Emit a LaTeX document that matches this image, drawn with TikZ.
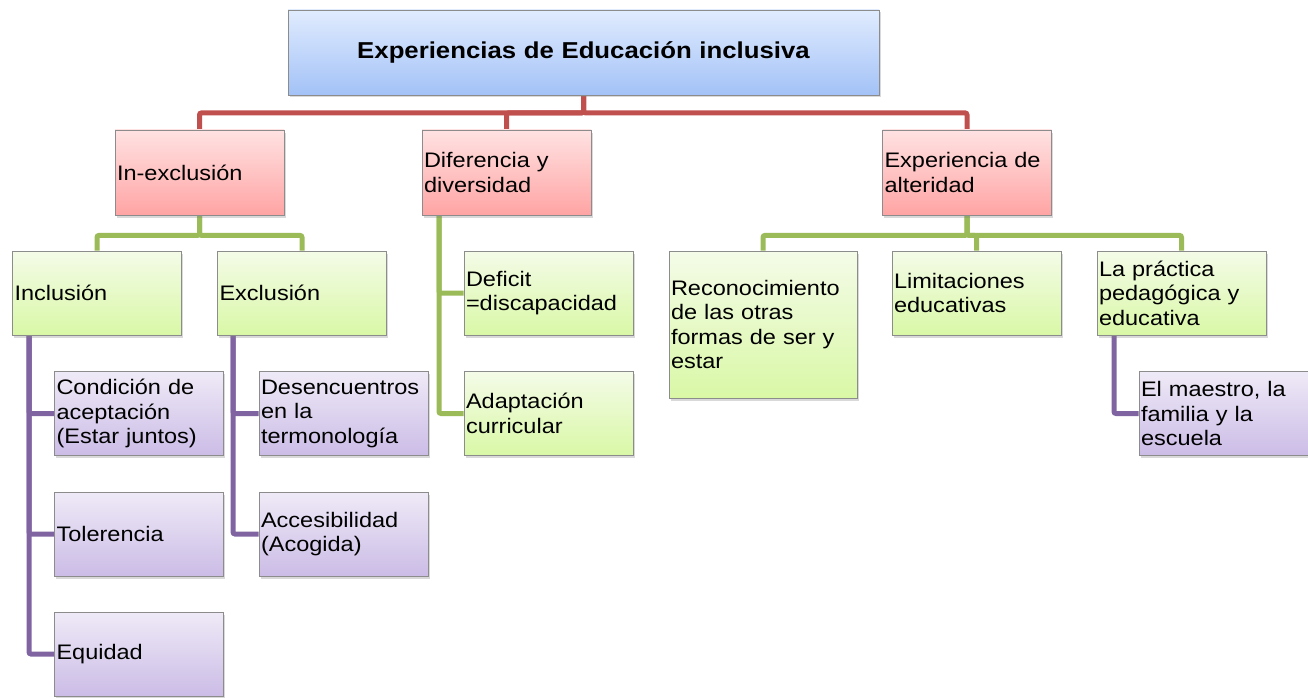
\documentclass[tikz,border=0pt]{standalone}
\usepackage{fontspec}
\setmainfont[FakeStretch=1.12]{Liberation Sans}
\usetikzlibrary{shadows,backgrounds}
\definecolor{lnred}{HTML}{C0504D}
\definecolor{lngreen}{HTML}{9BBB59}
\definecolor{lnpurple}{HTML}{8064A2}
\definecolor{boxgray}{HTML}{8C8C8C}
\definecolor{bluetop}{HTML}{E0EBFE}
\definecolor{bluebot}{HTML}{A3C2F7}
\definecolor{pinktop}{HTML}{FFE2E2}
\definecolor{pinkbot}{HTML}{FFA4A4}
\definecolor{greentop}{HTML}{F4FBE8}
\definecolor{greenbot}{HTML}{D9F8A6}
\definecolor{purptop}{HTML}{EFEAF7}
\definecolor{purpbot}{HTML}{CBBCE6}
\begin{document}
\begin{tikzpicture}[x=1pt, y=-1pt,
    box/.style={draw=boxgray, line width=0.8pt, inner xsep=2pt, inner ysep=0pt,
      align=left, text width=165pt, minimum height=84pt,
      font=\fontsize{21}{24.5}\selectfont,
      drop shadow={opacity=0.3, shadow xshift=1.5pt, shadow yshift=-2.5pt}},
    bluebox/.style={box, top color=bluetop, bottom color=bluebot},
    pinkbox/.style={box, top color=pinktop, bottom color=pinkbot},
    greenbox/.style={box, top color=greentop, bottom color=greenbot},
    purpbox/.style={box, top color=purptop, bottom color=purpbot},
    redline/.style={draw=lnred, line width=5pt, rounded corners=2pt},
    greenline/.style={draw=lngreen, line width=5pt, rounded corners=2pt},
    purpline/.style={draw=lnpurple, line width=5pt, rounded corners=2pt}]
    \useasboundingbox (0,0) rectangle (1308,698);

    \node [bluebox, text width=587pt, minimum height=85pt, align=center,
      font=\fontsize{23}{27}\selectfont\bfseries] (top) at (583.5,52.5) {Experiencias de Educación inclusiva};

    \node [pinkbox, minimum height=85pt] (inex) at (199.5,172.5) {In-exclusión};
    \node [pinkbox, minimum height=85pt] (difdiv) at (506.5,172.5) {Diferencia y\\diversidad};
    \node [pinkbox, minimum height=85pt] (alter) at (967,172.5) {Experiencia de\\alteridad};

    \node [greenbox] (incl) at (97,293) {Inclusión};
    \node [greenbox] (excl) at (302,293) {Exclusión};
    \node [greenbox] (deficit) at (548.5,293) {Deficit\\=discapacidad};
    \node [greenbox] (adapt) at (548.5,413.5) {Adaptación\\curricular};
    \node [greenbox, text width=184pt, minimum height=147pt] (recon) at (763,324.5) {Reconocimiento\\de las otras\\formas de ser y\\estar};
    \node [greenbox] (limit) at (976.5,293) {Limitaciones\\educativas};
    \node [greenbox] (prac) at (1181.5,293) {La práctica\\pedagógica y\\educativa};

    \node [purpbox] (cond) at (139,413.5) {Condición de\\aceptación\\(Estar juntos)};
    \node [purpbox] (tol) at (139,534) {Tolerencia};
    \node [purpbox] (equi) at (139,654) {Equidad};
    \node [purpbox] (desen) at (343.5,413.5) {Desencuentros\\en la\\termonología};
    \node [purpbox] (acces) at (343.5,534) {Accesibilidad\\(Acogida)};
    \node [purpbox] (maest) at (1223.5,413.5) {El maestro, la\\familia y la\\escuela};

    \coordinate (dstem) at (439,215);
    \coordinate (istem) at (29,335);
    \coordinate (estem) at (233,335);
    \coordinate (pstem) at (1114,335);

    \begin{scope}[on background layer]
        \foreach \c in {inex,difdiv,alter}
            \draw [redline] (top.south) -- ++(0,17.5) -| (\c.north);
        \foreach \c in {incl,excl}
            \draw [greenline] (inex.south) -- ++(0,20) -| (\c.north);
        \foreach \c in {recon,limit,prac}
            \draw [greenline] (alter.south) -- ++(0,20) -| (\c.north);
        \foreach \c in {deficit,adapt}
            \draw [greenline] (dstem) |- (\c.west);
        \foreach \c in {cond,tol,equi}
            \draw [purpline] (istem) |- (\c.west);
        \foreach \c in {desen,acces}
            \draw [purpline] (estem) |- (\c.west);
        \draw [purpline] (pstem) |- (maest.west);
    \end{scope}
\end{tikzpicture}
\end{document}
